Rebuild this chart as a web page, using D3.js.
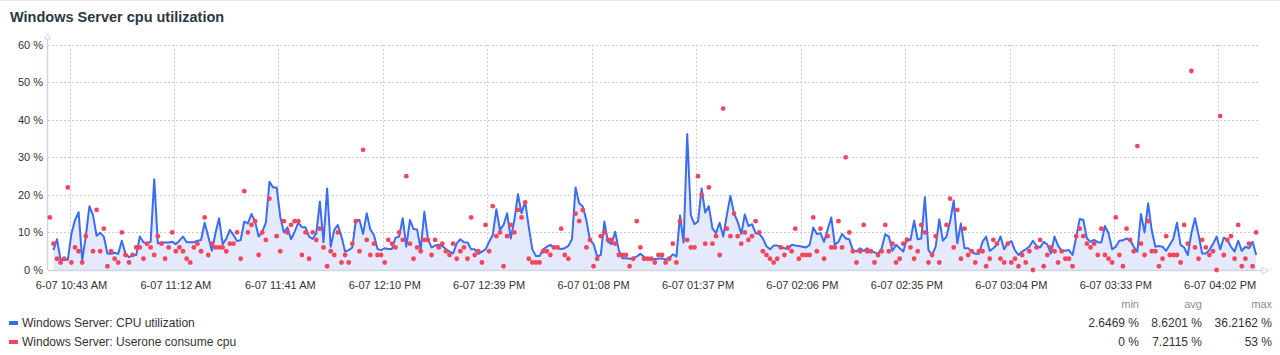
<!DOCTYPE html>
<html><head><meta charset="utf-8">
<script src="https://cdn.jsdelivr.net/npm/d3@7"></script>
<style>
body{margin:0;background:#fff;}
svg{display:block;font-family:"Liberation Sans",Arial,sans-serif;}
</style>
</head><body>
<svg id="c" width="1280" height="355"></svg>
<script>
const chartTitle = "Windows Server cpu utilization";
const seriesNames = ["Windows Server: CPU utilization", "Windows Server: Userone consume cpu"];
const seriesColors = ["#3a6cf4", "#f5455c"];
const tickLabels = ["6-07 10:43 AM","6-07 11:12 AM","6-07 11:41 AM","6-07 12:10 PM","6-07 12:39 PM","6-07 01:08 PM",
  "6-07 01:37 PM","6-07 02:06 PM","6-07 02:35 PM","6-07 03:04 PM","6-07 03:33 PM","6-07 04:02 PM"];
const tickFirstIndex = 6, tickEvery = 29;
const yTicks = [0, 10, 20, 30, 40, 50, 60];
const statHeaders = ["min", "avg", "max"];
const cpuStats = ["2.6469 %", "8.6201 %", "36.2162 %"];
const useroneStats = ["0 %", "7.2115 %", "53 %"];

const cpuUtilization = [
  null,5.3,8.2,2.7,2.8,2.7,9.6,13.3,15.4,2.6469,
  8.9,17.0,14.6,9.1,9.9,8.9,4.4,4.3,4.6,4.3,
  7.8,4.4,3.4,4.0,4.0,8.9,7.4,7.1,7.5,24.2,
  7.1,7.3,7.3,7.3,7.5,6.9,7.8,8.9,7.4,7.4,
  7.4,7.8,8.0,12.6,8.9,5.1,9.8,13.8,6.9,8.3,
  10.7,9.3,7.7,8.0,12.9,12.4,14.9,12.9,8.9,10.2,
  12.6,23.5,22.0,22.0,14.2,10.0,11.4,8.2,10.2,12.6,
  11.4,11.4,8.9,8.3,9.8,18.2,7.4,21.7,6.2,10.7,
  12.0,8.9,4.9,5.3,6.0,13.3,13.3,9.6,15.1,10.8,
  9.3,5.6,5.3,5.8,5.6,5.6,8.6,8.9,13.8,6.2,
  13.3,10.9,10.8,5.5,15.5,8.2,6.0,6.5,6.7,6.4,
  5.6,4.9,4.4,7.1,8.2,7.4,7.3,5.5,5.5,4.3,
  4.9,5.5,7.5,9.3,16.2,10.7,12.0,15.1,8.4,13.3,
  20.2,15.1,18.2,11.5,5.5,3.7,3.7,5.5,6.2,6.7,
  6.0,5.8,5.6,5.8,6.4,8.2,22.0,17.8,16.9,13.3,
  8.0,6.9,3.6,4.0,12.9,7.5,6.9,10.2,5.3,3.1,
  3.1,3.0,3.1,3.6,4.3,3.5,2.8,2.8,2.9,3.0,
  3.1,2.8,3.0,4.2,3.6,14.5,7.3,36.2162,14.6,12.2,
  12.9,21.7,15.3,17.0,11.1,9.8,12.6,8.9,14.6,19.7,
  15.1,12.9,9.6,14.8,11.7,12.2,9.8,9.6,8.4,6.3,
  5.5,6.5,6.5,6.2,5.8,5.6,6.7,6.5,6.4,6.2,
  6.0,6.7,11.3,9.6,9.8,7.5,10.8,14.0,6.7,7.5,
  9.6,8.4,8.2,5.3,4.9,5.8,5.1,5.8,4.9,4.7,
  4.3,5.8,9.5,8.9,5.1,6.7,5.8,4.9,8.4,8.0,
  13.1,8.2,8.4,19.4,5.3,4.0,6.2,13.5,7.8,8.9,
  12.9,18.5,7.1,12.4,5.8,5.8,4.9,4.3,4.3,7.5,
  8.9,5.1,5.8,6.7,8.9,5.5,7.1,7.7,5.3,4.0,
  4.9,5.5,6.2,7.8,6.4,6.0,7.5,6.8,4.4,8.9,
  6.4,5.1,5.1,5.3,4.0,8.7,13.6,13.3,8.4,7.5,
  8.0,7.4,7.3,11.7,9.8,5.5,6.2,7.8,7.9,8.4,
  8.0,6.2,4.9,14.9,10.0,17.8,10.5,6.2,6.4,6.2,
  5.1,6.7,8.3,12.6,6.7,6.0,4.0,9.8,13.8,9.3,
  4.4,4.4,5.3,6.9,8.9,5.5,8.6,8.0,6.2,4.9,
  7.8,5.1,6.2,5.8,7.5,4.0
];

const useroneCpu = [
  14,7,3,2,3,22,2,6,5,2,
  9,null,5,16,5,11,1,5,3,2,
  10,4,2,4,6,6,3,7,6,4,
  9,7,3,6,10,5,6,5,3,2,
  6,7,5,14,4,7,6,6,6,5,
  7,7,10,3,21,10,12,13,4,10,
  8,19,null,9,5,13,10,12,13,13,
  4,10,3,10,8,11,6,1,5,4,
  10,2,4,2,7,13,5,32,8,4,
  7,4,4,2,8,7,6,10,8,25,
  7,3,6,5,8,8,4,8,6,7,
  5,4,7,3,5,6,3,14,4,5,
  2,12,5,17,9,10,1,9,12,10,
  16,14,18,3,2,2,2,5,5,4,
  6,6,11,4,3,null,15,13,16,6,
  8,1,3,9,10,8,8,7,4,4,
  4,1,3,13,6,3,3,3,2,4,
  4,2,3,7,2,13,null,8,6,6,
  25,20,7,22,7,9,4,43,11,9,
  15,9,7,10,8,9,13,10,5,4,
  3,2,3,6,4,6,5,11,3,4,
  4,4,14,5,11,3,9,6,6,13,
  6,30,10,5,2,5,12,5,5,2,
  4,5,12,5,7,2,3,7,8,6,
  3,5,12,10,2,4,9,2,null,12,
  19,6,16,3,11,4,5,2,5,5,
  1,3,8,7,3,2,7,2,3,1,
  4,2,5,0,6,8,1,4,6,5,
  2,5,3,3,1,9,11,9,7,6,
  7,4,11,4,3,2,14,4,1,11,
  8,5,33,7,4,13,5,5,1,3,
  9,4,4,4,2,12,7,53,6,3,
  8,6,4,5,0,41,4,8,9,3,
  12,1,3,7,1,10
];

const svg = d3.select("#c");
const N = cpuUtilization.length;
const idx = d3.range(N);
const x = d3.scaleBand().domain(idx).range([48, 1258]).paddingInner(0).paddingOuter(0);
const cx = i => x(i) + x.bandwidth() / 2;
const y = d3.scaleLinear().domain([0, 60]).range([270, 44.7]);

// top border
svg.append("line").attr("x1", 0).attr("x2", 1280).attr("y1", 0.5).attr("y2", 0.5)
  .attr("stroke", "#e3e6ea").attr("stroke-width", 1);

// title
svg.append("text").attr("x", 10).attr("y", 22).attr("font-size", 14.5).attr("font-weight", "bold")
  .attr("fill", "#2c3744").text(chartTitle);

// horizontal grid
const gridColor = "#c9ced4";
svg.append("g").selectAll("line").data(yTicks.filter(t => t > 0)).join("line")
  .attr("x1", 48).attr("x2", 1258).attr("y1", d => Math.round(y(d)) + 0.5).attr("y2", d => Math.round(y(d)) + 0.5)
  .attr("stroke", gridColor).attr("stroke-dasharray", "2,2");

// vertical grid
const tickIdx = tickLabels.map((_, k) => tickFirstIndex + k * tickEvery);
svg.append("g").selectAll("line").data(tickIdx).join("line")
  .attr("x1", d => Math.round(x(d)) + 0.5).attr("x2", d => Math.round(x(d)) + 0.5)
  .attr("y1", y(60)).attr("y2", y(0))
  .attr("stroke", gridColor).attr("stroke-dasharray", "2,2");

// y axis labels
const yAxis = d3.axisLeft(y).tickValues(yTicks).tickFormat(d => d + " %").tickSize(0).tickPadding(5);
const gy = svg.append("g").attr("transform", "translate(48,0)").call(yAxis);
gy.select(".domain").remove();
gy.selectAll("text").attr("font-size", 11).attr("fill", "#333").attr("font-family", "Liberation Sans, Arial, sans-serif");

// x axis labels
const xAxis = d3.axisBottom(x).tickValues(tickIdx).tickFormat((d, k) => tickLabels[k]).tickSize(0).tickPadding(11);
const gx = svg.append("g").attr("transform", "translate(0,270)").call(xAxis);
gx.select(".domain").remove();
gx.selectAll("text").attr("font-size", 11).attr("fill", "#333").attr("font-family", "Liberation Sans, Arial, sans-serif");

// area + line
const area = d3.area().defined(d => d != null).x((d, i) => cx(i)).y0(y(0)).y1(d => y(d));
const line = d3.line().defined(d => d != null).x((d, i) => cx(i)).y(d => y(d));
svg.append("path").datum(cpuUtilization).attr("d", area).attr("fill", "#e4e9fb");
svg.append("path").datum(cpuUtilization).attr("d", line).attr("fill", "none")
  .attr("stroke", seriesColors[0]).attr("stroke-width", 2).attr("stroke-linejoin", "round");

// axes lines with arrows
const axisColor = "#cfd5de";
svg.append("line").attr("x1", 48).attr("x2", 1266).attr("y1", 270.5).attr("y2", 270.5).attr("stroke", axisColor).attr("stroke-width", 1.5);
svg.append("line").attr("x1", 47.5).attr("x2", 47.5).attr("y1", 270).attr("y2", 36).attr("stroke", axisColor).attr("stroke-width", 1.5);
svg.append("path").attr("d", "M44.5,39 L47.5,33 L50.5,39 Z").attr("fill", "#fff").attr("stroke", axisColor);
svg.append("path").attr("d", "M1262,267.5 L1269,270.5 L1262,273.5 Z").attr("fill", "#fff").attr("stroke", axisColor);

// scatter
svg.append("g").selectAll("circle").data(useroneCpu.map((v, i) => ({v, i})).filter(d => d.v != null)).join("circle")
  .attr("cx", d => cx(d.i)).attr("cy", d => y(d.v)).attr("r", 2.4).attr("fill", seriesColors[1]);

// legend
const cols = [1139, 1202, 1272];
svg.append("g").selectAll("text").data(statHeaders).join("text")
  .attr("x", (d, k) => cols[k]).attr("y", 308).attr("text-anchor", "end")
  .attr("font-size", 11).attr("fill", "#8a8f96").text(d => d);
const rows = [{name: seriesNames[0], color: seriesColors[0], stats: cpuStats, y: 327},
              {name: seriesNames[1], color: seriesColors[1], stats: useroneStats, y: 346}];
rows.forEach(r => {
  svg.append("rect").attr("x", 9).attr("y", r.y - 6).attr("width", 9).attr("height", 4).attr("fill", r.color);
  svg.append("text").attr("x", 22).attr("y", r.y).attr("font-size", 12).attr("fill", "#333").text(r.name);
  r.stats.forEach((s, k) => {
    svg.append("text").attr("x", cols[k]).attr("y", r.y).attr("text-anchor", "end")
      .attr("font-size", 12).attr("fill", "#333").text(s);
  });
});
</script>
</body></html>
